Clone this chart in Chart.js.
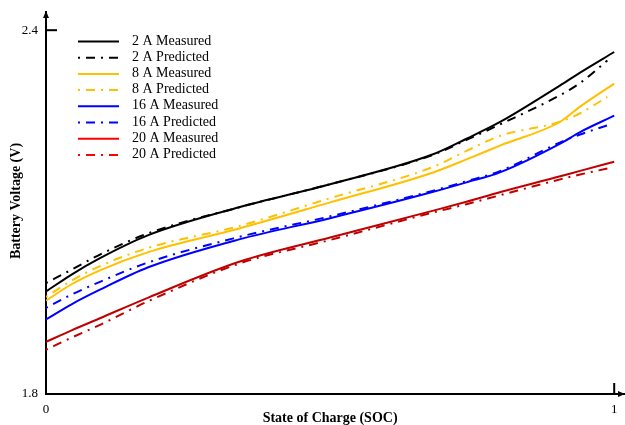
<!DOCTYPE html>
<html>
<head>
<meta charset="utf-8">
<script src="https://cdn.jsdelivr.net/npm/chart.js@4/dist/chart.umd.min.js"></script>
<style>
  html, body { margin: 0; padding: 0; background: #fff; }
  #wrap { width: 625px; height: 425px; }
</style>
</head>
<body>
<div id="wrap"><canvas id="socChart"></canvas></div>
<script>
// Data (SOC vs tegangan baterai)
const socMeasured = [0, 0.045, 0.095, 0.18, 0.34, 0.5, 0.68, 0.74, 0.8, 0.905, 0.94, 1];
const socPredicted = [0, 0.045, 0.095, 0.18, 0.34, 0.5, 0.68, 0.74, 0.8, 0.905, 0.94, 0.988];

const v2Measured = [1.969, 1.997, 2.024, 2.062, 2.108, 2.146, 2.195, 2.221, 2.249, 2.309, 2.330, 2.364];
const v2Predicted = [1.983, 2.005, 2.030, 2.065, 2.108, 2.146, 2.194, 2.219, 2.245, 2.293, 2.313, 2.350];
const v8Measured = [1.954, 1.981, 2.004, 2.034, 2.073, 2.116, 2.165, 2.187, 2.210, 2.249, 2.274, 2.312];
const v8Predicted = [1.960, 1.987, 2.011, 2.041, 2.077, 2.123, 2.174, 2.201, 2.226, 2.249, 2.263, 2.290];
const v16Measured = [1.923, 1.948, 1.972, 2.009, 2.055, 2.090, 2.133, 2.149, 2.166, 2.213, 2.232, 2.259];
const v16Predicted = [1.942, 1.964, 1.985, 2.017, 2.059, 2.093, 2.135, 2.151, 2.168, 2.215, 2.228, 2.243];
const v20Measured = [1.886, 1.905, 1.925, 1.959, 2.018, 2.058, 2.102, 2.117, 2.133, 2.159, 2.168, 2.183];
const v20Predicted = [1.873, 1.893, 1.914, 1.953, 2.015, 2.054, 2.099, 2.113, 2.128, 2.154, 2.162, 2.172];

const seriesLabels = ['2 A Measured', '2 A Predicted', '8 A Measured', '8 A Predicted',
    '16 A Measured', '16 A Predicted', '20 A Measured', '20 A Predicted'];
const lineColors = ['#000000', '#000000', '#ffc000', '#ffc000', '#0000ff', '#0000ff', '#c00000', '#c00000'];
const legendColors = ['#000000', '#000000', '#ffc000', '#ffc000', '#0000ff', '#0000ff', '#ff0000', '#ff0000'];

const yTicks = [1.8, 2.4];
const xTicks = [0, 1];

const serif = '"Liberation Serif", "Times New Roman", serif';
const dashDot = [2, 6, 9, 6];

function toPoints(xs, ys) {
    return ys.map((v, i) => ({ x: xs[i], y: v }));
}

const allValues = [v2Measured, v2Predicted, v8Measured, v8Predicted,
    v16Measured, v16Predicted, v20Measured, v20Predicted];

const datasets = allValues.map((vals, i) => {
    const predicted = i % 2 === 1;
    return {
        label: seriesLabels[i],
        data: toPoints(predicted ? socPredicted : socMeasured, vals),
        borderColor: lineColors[i],
        borderWidth: 2,
        borderDash: predicted ? dashDot : [],
        pointRadius: 0,
        cubicInterpolationMode: 'monotone',
        fill: false
    };
});

// Plugin: panah sumbu, tick di dalam, judul sumbu dan legenda
const decorPlugin = {
    id: 'decor',
    afterDraw(chart) {
        const ctx = chart.ctx;
        const x = chart.scales.x;
        const y = chart.scales.y;
        const area = chart.chartArea;
        const x0 = x.getPixelForValue(0);
        const yBottom = y.getPixelForValue(1.8);

        ctx.save();
        ctx.fillStyle = '#000';
        ctx.strokeStyle = '#000';
        ctx.lineWidth = 2;

        // panah atas sumbu Y
        ctx.beginPath();
        ctx.moveTo(x0, area.top - 1);
        ctx.lineTo(x0 - 3, area.top + 6);
        ctx.lineTo(x0 + 3, area.top + 6);
        ctx.closePath();
        ctx.fill();

        // panah kanan sumbu X
        ctx.beginPath();
        ctx.moveTo(area.right, yBottom);
        ctx.lineTo(area.right - 7, yBottom - 3);
        ctx.lineTo(area.right - 7, yBottom + 3);
        ctx.closePath();
        ctx.fill();

        // tick di dalam area
        const yTop = y.getPixelForValue(2.4);
        ctx.beginPath();
        ctx.moveTo(x0, yTop);
        ctx.lineTo(x0 + 11, yTop);
        ctx.stroke();
        const x1 = x.getPixelForValue(1);
        ctx.beginPath();
        ctx.moveTo(x1, yBottom);
        ctx.lineTo(x1, yBottom - 11);
        ctx.stroke();

        // judul sumbu
        ctx.font = 'bold 14px ' + serif;
        ctx.textAlign = 'center';
        ctx.textBaseline = 'middle';
        ctx.fillText('State of Charge (SOC)', (x0 + x1) / 2, 418);
        ctx.translate(16, 201);
        ctx.rotate(-Math.PI / 2);
        ctx.fillText('Battery Voltage (V)', 0, 0);
        ctx.restore();

        // legenda
        ctx.save();
        ctx.font = '14px ' + serif;
        ctx.textAlign = 'left';
        ctx.textBaseline = 'middle';
        chart.data.datasets.forEach((ds, i) => {
            const ly = 41.5 + i * 16.2;
            ctx.strokeStyle = legendColors[i];
            ctx.lineWidth = 2;
            ctx.setLineDash(ds.borderDash);
            ctx.beginPath();
            ctx.moveTo(78, ly);
            ctx.lineTo(119, ly);
            ctx.stroke();
            ctx.setLineDash([]);
            ctx.fillStyle = '#000';
            ctx.fillText(ds.label, 132, ly - 0.5);
        });
        ctx.restore();
    }
};

document.addEventListener('DOMContentLoaded', function () {
    const ctx = document.getElementById('socChart').getContext('2d');
    new Chart(ctx, {
        type: 'line',
        data: { datasets: datasets },
        options: {
            responsive: true,
            maintainAspectRatio: false,
            animation: false,
            layout: { padding: { top: 12, right: 0, left: 0, bottom: 0 } },
            plugins: { legend: { display: false }, tooltip: { enabled: false } },
            scales: {
                x: {
                    type: 'linear',
                    min: 0,
                    max: 1.019,
                    afterBuildTicks: (scale) => { scale.ticks = xTicks.map(v => ({ value: v })); },
                    afterFit: (scale) => {
                        scale.height = 31;
                        scale.paddingLeft = 0;
                        scale.paddingRight = 0;
                    },
                    grid: { display: false, drawTicks: false },
                    border: { display: true, color: '#000', width: 2 },
                    ticks: {
                        color: '#000',
                        padding: 8,
                        maxRotation: 0,
                        font: { family: serif, size: 13 }
                    }
                },
                y: {
                    min: 1.8,
                    max: 2.43,
                    afterBuildTicks: (scale) => { scale.ticks = yTicks.map(v => ({ value: v })); },
                    afterFit: (scale) => {
                        scale.width = 46;
                        scale.paddingTop = 0;
                        scale.paddingBottom = 0;
                    },
                    grid: { display: false, drawTicks: false },
                    border: { display: true, color: '#000', width: 2 },
                    ticks: {
                        color: '#000',
                        padding: 8,
                        font: { family: serif, size: 13 },
                        callback: (value) => value.toFixed(1)
                    }
                }
            }
        },
        plugins: [decorPlugin]
    });
});
</script>
</body>
</html>
